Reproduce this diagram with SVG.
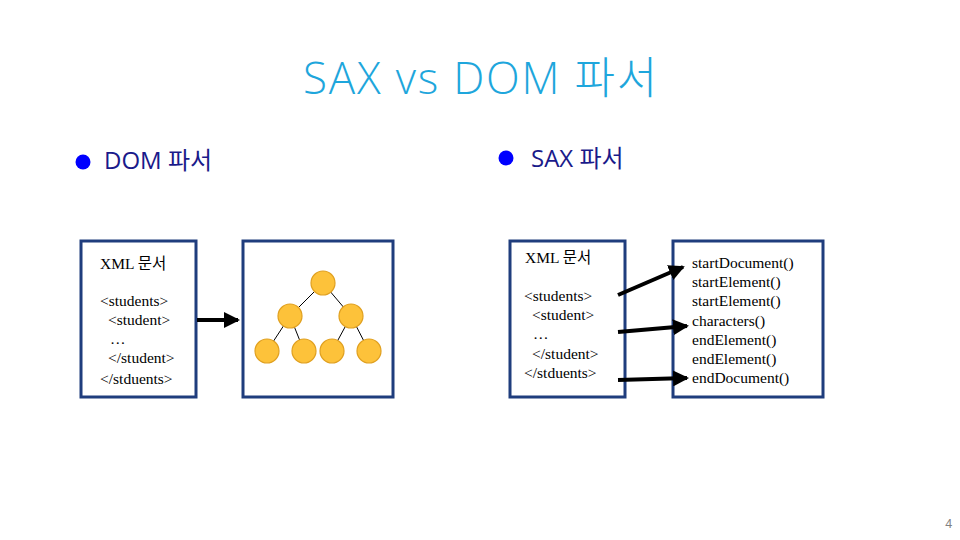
<svg xmlns="http://www.w3.org/2000/svg" width="960" height="540" viewBox="0 0 960 540">
<style>
.box{fill:#fff;stroke:#1f3d7d;stroke-width:3}
.t{font-family:"Liberation Serif","Noto Sans CJK KR",serif;font-size:15.5px;fill:#000}
.head{font-family:"Open Sans","Noto Sans CJK KR",sans-serif;font-size:24px;fill:#1a1a8a}
.node{fill:#fdc23a;stroke:#e0a020;stroke-width:1.2}
.edge{stroke:#000;stroke-width:1}
.arr{stroke:#000;stroke-width:4;fill:none;marker-end:url(#ah)}
</style>
<defs>
<marker id="ah" markerWidth="4" markerHeight="4" refX="3.5" refY="2" orient="auto" markerUnits="strokeWidth">
<path d="M0,0 L4,2 L0,4 z" fill="#000"/>
</marker>
</defs>
<rect width="960" height="540" fill="#fff"/>
<text x="481" y="94" text-anchor="middle" font-family="Open Sans,Noto Sans CJK KR,sans-serif" font-weight="300" font-size="44" letter-spacing="1.8" fill="#1ea6dc">SAX vs DOM 파서</text>
<g id="dom-heading">
<circle cx="83" cy="162" r="7.5" fill="#0000ff"/>
<text class="head" x="104" y="169">DOM 파서</text>
</g>
<g id="sax-heading">
<circle cx="506" cy="158" r="7.5" fill="#0000ff"/>
<text class="head" x="531" y="167">SAX 파서</text>
</g>
<g id="dom-xml">
<rect class="box" x="81" y="241" width="115" height="156"/>
<text class="t" x="100" y="269">XML 문서</text>
<text class="t" x="100" y="306">&lt;students&gt;</text>
<text class="t" x="108" y="325">&lt;student&gt;</text>
<text class="t" x="110" y="344">…</text>
<text class="t" x="108" y="363">&lt;/student&gt;</text>
<text class="t" x="100" y="384">&lt;/stduents&gt;</text>
</g>
<g id="dom-tree">
<rect class="box" x="243" y="241" width="150" height="156"/>
<line class="edge" x1="323" y1="283" x2="290" y2="316"/>
<line class="edge" x1="323" y1="283" x2="351" y2="316"/>
<line class="edge" x1="290" y1="316" x2="267" y2="351"/>
<line class="edge" x1="290" y1="316" x2="304" y2="351"/>
<line class="edge" x1="351" y1="316" x2="332" y2="351"/>
<line class="edge" x1="351" y1="316" x2="369" y2="351"/>
<circle class="node" cx="323" cy="283" r="12"/>
<circle class="node" cx="290" cy="316" r="12"/>
<circle class="node" cx="351" cy="316" r="12"/>
<circle class="node" cx="267" cy="351" r="12"/>
<circle class="node" cx="304" cy="351" r="12"/>
<circle class="node" cx="332" cy="351" r="12"/>
<circle class="node" cx="369" cy="351" r="12"/>
</g>
<g id="sax-xml">
<rect class="box" x="510" y="241" width="115" height="156"/>
<text class="t" x="525" y="263">XML 문서</text>
<text class="t" x="524" y="301">&lt;students&gt;</text>
<text class="t" x="532" y="320">&lt;student&gt;</text>
<text class="t" x="533" y="339">…</text>
<text class="t" x="532" y="359">&lt;/student&gt;</text>
<text class="t" x="524" y="378">&lt;/stduents&gt;</text>
</g>
<g id="sax-events">
<rect class="box" x="673" y="241" width="150" height="156"/>
<text class="t" x="692" y="268">startDocument()</text>
<text class="t" x="692" y="287">startElement()</text>
<text class="t" x="692" y="306">startElement()</text>
<text class="t" x="692" y="326">characters()</text>
<text class="t" x="692" y="345">endElement()</text>
<text class="t" x="692" y="364">endElement()</text>
<text class="t" x="692" y="383">endDocument()</text>
</g>
<g id="connectors">
<line class="arr" x1="197" y1="320" x2="238" y2="320"/>
<line class="arr" x1="618" y1="295" x2="683" y2="267"/>
<line class="arr" x1="618" y1="332" x2="687" y2="326"/>
<line class="arr" x1="618" y1="380" x2="687" y2="378"/>
</g>
<text x="952" y="528" text-anchor="end" font-family="Noto Sans,sans-serif" font-size="12" fill="#808080">4</text>
</svg>
